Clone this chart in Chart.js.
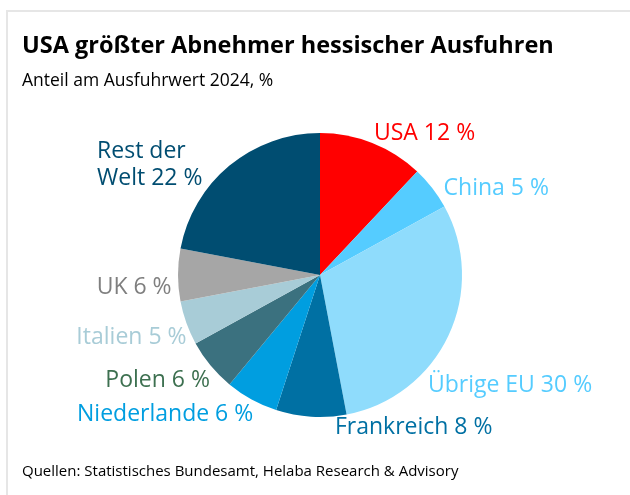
<!DOCTYPE html>
<html lang="de">
<head>
<meta charset="utf-8">
<title>USA größter Abnehmer hessischer Ausfuhren</title>
<script src="https://cdn.jsdelivr.net/npm/chart.js@4/dist/chart.umd.min.js"></script>
<style>
  html, body { margin: 0; padding: 0; background: #fff; }
  body { width: 630px; height: 495px; position: relative; overflow: hidden; font-family: "Open Sans", sans-serif; }
  .frame { position: absolute; left: 6px; top: 10px; right: 0; bottom: 0; border-top: 2px solid #e6e6e6; border-left: 2px solid #e6e6e6; }
  #chart { position: absolute; left: 0; top: 0; }
  .title { position: absolute; left: 22px; top: 28px; font-size: 23.5px; font-weight: bold; color: #000; white-space: nowrap; }
  .subtitle { position: absolute; left: 22px; top: 67px; font-size: 17.5px; color: #000; white-space: nowrap; }
  .source { position: absolute; left: 22px; top: 460px; font-size: 15px; color: #000; white-space: nowrap; }
</style>
</head>
<body>
<div class="frame"></div>
<canvas id="chart" width="630" height="495"></canvas>
<div class="title">USA größter Abnehmer hessischer Ausfuhren</div>
<div class="subtitle">Anteil am Ausfuhrwert 2024, %</div>
<div class="source">Quellen: Statistisches Bundesamt, Helaba Research &amp; Advisory</div>
<script>
const countries = ['USA', 'China', 'Übrige EU', 'Frankreich', 'Niederlande', 'Polen', 'Italien', 'UK', 'Rest der Welt'];
const shares = [12, 5, 30, 8, 6, 6, 5, 6, 22];

const sliceColors = ['#ff0000', '#55ccff', '#8fdcfc', '#0070a3', '#009ee0', '#3b717f', '#a8ccd7', '#a6a6a6', '#004d71'];
const textColors = ['#ff0000', '#55ccff', '#55ccff', '#0070a3', '#009ee0', '#3d7050', '#a8ccd7', '#7f7f7f', '#004d71'];

// label anchor relative to pie centre, in units of the radius
const labelSpots = [
  [0.38, -1.0, 'left'],
  [0.87, -0.61, 'left'],
  [0.76, 0.775, 'left'],
  [0.105, 1.075, 'left'],
  [-0.47, 0.985, 'right'],
  [-0.775, 0.74, 'right'],
  [-0.94, 0.44, 'right'],
  [-1.045, 0.09, 'right'],
  [-1.57, -0.78, 'left']
];

const sliceLabels = {
  id: 'sliceLabels',
  afterDatasetsDraw(chart) {
    const ctx = chart.ctx;
    const arcs = chart.getDatasetMeta(0).data;
    ctx.save();
    ctx.font = '23px "Open Sans", sans-serif';
    ctx.textBaseline = 'middle';
    arcs.forEach((arc, i) => {
      const [fx, fy, align] = labelSpots[i];
      const r = arc.outerRadius;
      const x = arc.x + fx * r;
      const y = arc.y + fy * r;
      ctx.fillStyle = textColors[i];
      ctx.textAlign = align;
      const text = countries[i] + ' ' + shares[i] + ' %';
      if (countries[i] === 'Rest der Welt') {
        ctx.fillText('Rest der', x, y - 13);
        ctx.fillText('Welt ' + shares[i] + ' %', x, y + 14);
      } else {
        ctx.fillText(text, x, y);
      }
    });
    ctx.restore();
  }
};

new Chart(document.getElementById('chart'), {
  type: 'pie',
  data: {
    labels: countries,
    datasets: [{
      data: shares,
      backgroundColor: sliceColors,
      borderWidth: 0,
      hoverOffset: 0,
      offset: 0
    }]
  },
  options: {
    responsive: false,
    animation: false,
    radius: 142,
    layout: { padding: { top: 133, bottom: 78, left: 178, right: 168 } },
    plugins: {
      legend: { display: false },
      tooltip: { enabled: false }
    }
  },
  plugins: [sliceLabels]
});
</script>
</body>
</html>
